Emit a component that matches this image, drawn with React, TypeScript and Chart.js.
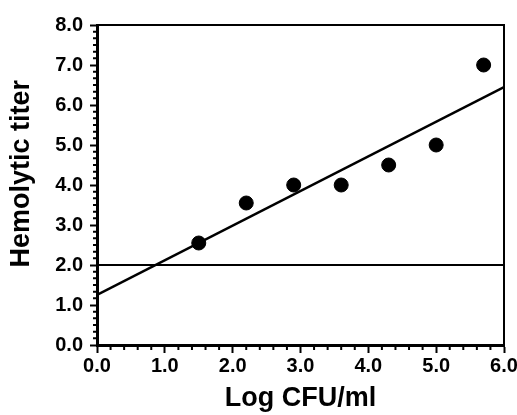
import React, { useEffect, useRef } from "react";
import { Chart, registerables } from "chart.js";

Chart.register(...registerables);

const logCfu = [1.5, 2.2, 2.9, 3.6, 4.3, 5.0, 5.7];
const hemolyticTiter = [2.55, 3.55, 4.0, 4.0, 4.5, 5.0, 7.0];
const fitLineX = [0, 6];
const fitLineY = [1.25, 6.45];
const thresholdX = [0, 6];
const thresholdY = [2.0, 2.0];
const xTickValues = [0, 1, 2, 3, 4, 5, 6];
const yTickValues = [0, 1, 2, 3, 4, 5, 6, 7, 8];

const FONT = "'Liberation Sans', Arial, Helvetica, sans-serif";

const minorTicks = {
  id: "minorTicks",
  afterDraw(chart: any) {
    const ctx = chart.ctx;
    const xs = chart.scales.x;
    const ys = chart.scales.y;
    const area = chart.chartArea;
    ctx.save();
    ctx.strokeStyle = "#000";
    ctx.lineWidth = 2;
    ctx.beginPath();
    for (let i = 0; i <= 30; i++) {
      if (i % 5 === 0) continue;
      const px = xs.getPixelForValue(i * 0.2);
      ctx.moveTo(px, area.bottom);
      ctx.lineTo(px, area.bottom + 5);
    }
    for (let i = 0; i <= 48; i++) {
      if (i % 6 === 0) continue;
      const py = ys.getPixelForValue(i / 6);
      ctx.moveTo(area.left, py);
      ctx.lineTo(area.left - 4, py);
    }
    ctx.stroke();
    ctx.restore();
  },
};

export default function App() {
  const ref = useRef<HTMLCanvasElement>(null);
  useEffect(() => {
    document.body.style.margin = "0";
    const chart = new Chart(ref.current!, {
      type: "scatter",
      data: {
        datasets: [
          {
            type: "scatter",
            data: logCfu.map((x, i) => ({ x, y: hemolyticTiter[i] })),
            backgroundColor: "#000",
            borderColor: "#000",
            pointRadius: 7,
            order: 1,
          },
          {
            type: "line",
            data: fitLineX.map((x, i) => ({ x, y: fitLineY[i] })),
            borderColor: "#000",
            borderWidth: 2.5,
            pointRadius: 0,
            fill: false,
            order: 2,
          },
          {
            type: "line",
            data: thresholdX.map((x, i) => ({ x, y: thresholdY[i] })),
            borderColor: "#000",
            borderWidth: 2,
            pointRadius: 0,
            fill: false,
            order: 3,
          },
        ],
      } as any,
      options: {
        animation: false,
        responsive: false,
        maintainAspectRatio: false,
        layout: { padding: { top: 25, right: 13, left: 0, bottom: 0 } },
        plugins: { legend: { display: false }, tooltip: { enabled: false } },
        scales: {
          x: {
            type: "linear",
            position: "bottom",
            min: 0,
            max: 6,
            afterBuildTicks: (s: any) => {
              s.ticks = xTickValues.map((v) => ({ value: v }));
            },
            afterFit: (s: any) => {
              s.height = 70;
              s.paddingLeft = 0;
              s.paddingRight = 0;
            },
            ticks: {
              color: "#000",
              font: { family: FONT, size: 20, weight: "bold" },
              padding: 1,
              maxRotation: 0,
              autoSkip: false,
              callback: (v: any) => Number(v).toFixed(1),
            },
            grid: {
              drawOnChartArea: false,
              drawTicks: true,
              tickLength: 8,
              tickWidth: 2,
              tickColor: "#000",
            },
            border: { display: true, color: "#000", width: 3 },
            title: {
              display: true,
              text: "Log CFU/ml",
              color: "#000",
              font: { family: FONT, size: 27, weight: "bold" },
              padding: { top: 0, bottom: 0 },
            },
          },
          y: {
            type: "linear",
            position: "left",
            min: 0,
            max: 8,
            afterBuildTicks: (s: any) => {
              s.ticks = yTickValues.map((v) => ({ value: v }));
            },
            afterFit: (s: any) => {
              s.width = 97;
              s.paddingTop = 0;
              s.paddingBottom = 0;
            },
            ticks: {
              color: "#000",
              font: { family: FONT, size: 20, weight: "bold" },
              padding: 7,
              autoSkip: false,
              callback: (v: any) => Number(v).toFixed(1),
            },
            grid: {
              drawOnChartArea: false,
              drawTicks: true,
              tickLength: 7,
              tickWidth: 2,
              tickColor: "#000",
            },
            border: { display: true, color: "#000", width: 3 },
            title: {
              display: true,
              text: "   Hemolytic titer",
              color: "#000",
              font: { family: FONT, size: 27, weight: "bold" },
              padding: { top: 5, bottom: 0 },
            },
          },
          xTop: {
            type: "linear",
            position: "top",
            min: 0,
            max: 6,
            ticks: { display: false },
            grid: { display: false, drawTicks: false },
            border: { display: true, color: "#000", width: 2 },
            afterFit: (s: any) => {
              s.height = 0;
              s.paddingLeft = 0;
              s.paddingRight = 0;
            },
          },
          yRight: {
            type: "linear",
            position: "right",
            min: 0,
            max: 8,
            ticks: { display: false },
            grid: { display: false, drawTicks: false },
            border: { display: true, color: "#000", width: 2 },
            afterFit: (s: any) => {
              s.width = 0;
              s.paddingTop = 0;
              s.paddingBottom = 0;
            },
          },
        },
      } as any,
      plugins: [minorTicks],
    });
    return () => chart.destroy();
  }, []);
  return (
    <div style={{ width: 517, height: 415, background: "#fff" }}>
      <canvas ref={ref} width={517} height={415} style={{ width: 517, height: 415 }} />
    </div>
  );
}
